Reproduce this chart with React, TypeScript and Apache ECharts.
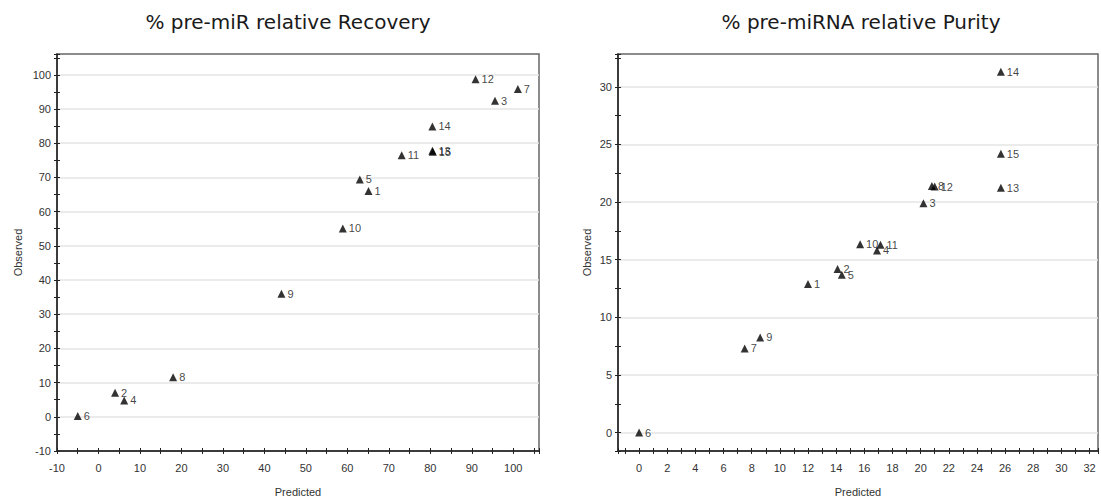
import React, { useEffect, useRef } from "react";
import * as echarts from "echarts";

// % pre-miR relative Recovery
const recIds = ["1", "2", "3", "4", "5", "6", "7", "8", "9", "10", "11", "12", "13", "14", "15"];
const recPredicted = [65.1, 4.0, 95.6, 6.2, 63.0, -5.0, 101.1, 18.0, 44.1, 58.9, 73.1, 90.9, 80.5, 80.5, 80.6];
const recObserved = [66.0, 7.0, 92.4, 4.8, 69.4, 0.2, 95.9, 11.6, 36.0, 55.1, 76.5, 98.7, 77.8, 84.9, 77.5];

// % pre-miRNA relative Purity
const purIds = ["1", "2", "3", "4", "5", "6", "7", "8", "9", "10", "11", "12", "13", "14", "15"];
const purPredicted = [12.0, 14.1, 20.2, 16.9, 14.4, 0.0, 7.5, 20.8, 8.6, 15.7, 17.15, 21.0, 25.7, 25.7, 25.7];
const purObserved = [12.9, 14.2, 19.9, 15.8, 13.7, 0.0, 7.3, 21.4, 8.25, 16.35, 16.3, 21.35, 21.25, 31.3, 24.2];

const titles = ["% pre-miR relative Recovery", "% pre-miRNA relative Purity"];
const xName = "Predicted";
const yName = "Observed";

const AXIS = "#222";
const LABEL = "#333";
const FONT = "Liberation Sans, Arial, sans-serif";

const isMult = (v: number, m: number) => Math.abs(v - Math.round(v / m) * m) < 1e-6;

function mainAxis(extra: any, step: number, margin: number) {
  return {
    type: "value",
    axisLine: { show: true, onZero: false, lineStyle: { color: AXIS, width: 1.5 } },
    axisTick: { show: true, length: 3, lineStyle: { color: AXIS, width: 1 } },
    axisLabel: {
      show: true,
      color: LABEL,
      fontSize: 11,
      fontFamily: FONT,
      margin,
      formatter: (v: number) => (isMult(v, step) ? String(Math.round(v)) : ""),
    },
    splitLine: { show: false },
    nameLocation: "middle",
    nameTextStyle: { color: LABEL, fontSize: 11, fontFamily: FONT },
    ...extra,
  };
}

function innerAxis(extra: any) {
  return {
    type: "value",
    axisLine: { show: false, onZero: false },
    axisTick: { show: true, inside: true, length: 3, lineStyle: { color: AXIS, width: 1 } },
    axisLabel: { show: false },
    splitLine: { show: false },
    ...extra,
  };
}

function splitAxis(extra: any) {
  return {
    type: "value",
    axisLine: { show: false, onZero: false },
    axisTick: { show: false },
    axisLabel: { show: false },
    splitLine: { show: true, showMinLine: false, showMaxLine: false, lineStyle: { color: "#e4e4e4", width: 1.5 } },
    ...extra,
  };
}

function pts(ids: string[], xs: number[], ys: number[]) {
  return ids.map((id, i) => ({ name: id, value: [xs[i], ys[i]] }));
}

function titleText(text: string, x: number) {
  return {
    type: "text",
    x,
    y: 22,
    style: {
      text,
      fontSize: 20,
      fontFamily: "DejaVu Sans",
      fill: "#1a1a1a",
      align: "center",
      verticalAlign: "middle",
      textAlign: "center",
      textVerticalAlign: "middle",
    },
  };
}

export default function App() {
  const ref = useRef<HTMLDivElement>(null);
  useEffect(() => {
    if (!ref.current) return;
    const chart = echarts.init(ref.current, undefined, { renderer: "svg" });
    const x0 = { gridIndex: 0, min: -10, max: 106.2, interval: 5, position: "bottom" };
    const y0 = { gridIndex: 0, min: -10, max: 106.1, interval: 5, position: "left" };
    const x1 = { gridIndex: 1, min: -1.5, max: 32.6, minInterval: 1, maxInterval: 1, splitNumber: 34, position: "bottom" };
    const y1 = { gridIndex: 1, min: -1.6, max: 32.85, minInterval: 2.5, maxInterval: 2.5, splitNumber: 14, position: "left" };
    const scatterStyle = {
      type: "scatter",
      symbol: "triangle",
      symbolSize: 8,
      itemStyle: { color: "#000" },
      label: {
        show: true,
        position: "right",
        distance: 2,
        formatter: "{b}",
        color: "#111",
        fontSize: 11,
        fontFamily: FONT,
      },
      emphasis: { disabled: true },
    };
    chart.setOption({
      animation: false,
      backgroundColor: "#fff",
      graphic: [titleText(titles[0], 288), titleText(titles[1], 861)],
      grid: [
        { left: 57, top: 54, width: 482, height: 399, show: true, borderColor: "#666", borderWidth: 1.5, backgroundColor: "transparent" },
        { left: 618, top: 54, width: 485, height: 399, show: true, borderColor: "#666", borderWidth: 1.5, backgroundColor: "transparent" },
      ],
      xAxis: [
        mainAxis({ ...x0, name: xName, nameGap: 35 }, 10, 11),
        innerAxis(x0),
        mainAxis({ ...x1, name: xName, nameGap: 35 }, 2, 11),
        innerAxis(x1),
      ],
      yAxis: [
        mainAxis({ ...y0, name: yName, nameGap: 34 }, 10, 6),
        innerAxis(y0),
        splitAxis({ gridIndex: 0, min: -10, max: 106.1, interval: 10, position: "left" }),
        mainAxis({ ...y1, name: yName, nameGap: 26 }, 5, 6),
        innerAxis(y1),
        splitAxis({ gridIndex: 1, min: -1.6, max: 32.85, minInterval: 5, maxInterval: 5, splitNumber: 7, position: "left" }),
      ],
      series: [
        { ...scatterStyle, xAxisIndex: 0, yAxisIndex: 0, data: pts(recIds, recPredicted, recObserved) },
        { ...scatterStyle, xAxisIndex: 2, yAxisIndex: 3, data: pts(purIds, purPredicted, purObserved) },
      ],
    });
    return () => chart.dispose();
  }, []);
  return (
    <div
      ref={ref}
      style={{ position: "absolute", left: 0, top: 0, width: 1101, height: 502, background: "#fff" }}
    />
  );
}
